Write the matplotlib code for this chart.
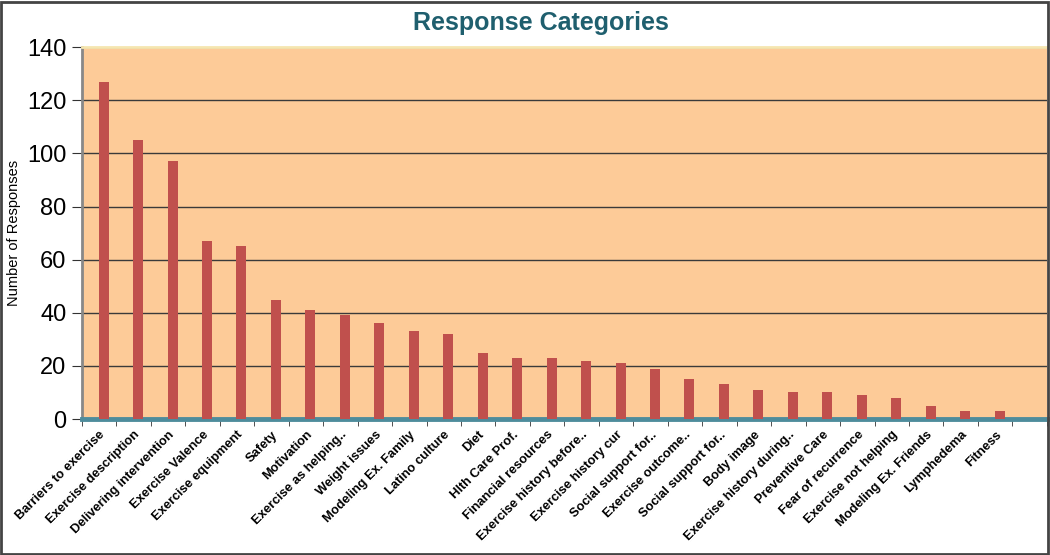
import matplotlib
matplotlib.use("Agg")
import matplotlib.pyplot as plt
import numpy as np
from matplotlib.patches import Rectangle

categories = ["Barriers to exercise", "Exercise description", "Delivering intervention",
              "Exercise Valence", "Exercise equipment", "Safety", "Motivation",
              "Exercise as helping..", "Weight issues", "Modeling Ex. Family",
              "Latino culture", "Diet", "Hlth Care Prof.", "Financial resources",
              "Exercise history before..", "Exercise history cur", "Social support for..",
              "Exercise outcome..", "Social support for..", "Body image",
              "Exercise history during..", "Preventive Care", "Fear of recurrence",
              "Exercise not helping", "Modeling Ex. Friends", "Lymphedema", "Fitness", ""]
values = [127, 105, 97, 67, 65, 45, 41, 39, 36, 33, 32, 25, 23, 23, 22, 21, 19,
          15, 13, 11, 10, 10, 9, 8, 5, 3, 3, 0]
yticks = [0, 20, 40, 60, 80, 100, 120, 140]

plt.rcParams['font.family'] = ['Liberation Sans', 'DejaVu Sans']

fig = plt.figure(figsize=(10.5, 5.55), dpi=100)
ax = fig.add_axes([0.078, 0.245, 0.919, 0.670])
ax.set_facecolor("#FDCB98")

x = np.arange(len(categories))
ax.bar(x + 0.13, values, width=0.29, color="#C0504D", zorder=3)

ax.set_xlim(-0.5, len(categories) - 0.5)
ax.set_ylim(0, 140)
ax.set_yticks(yticks)
ax.set_yticklabels([str(v) for v in yticks], fontsize=17)
ax.yaxis.grid(True, color="#3a3a3a", linewidth=1.0)
ax.set_axisbelow(True)

ax.set_xticks(x)
ax.set_xticklabels(categories, rotation=45, ha='right', rotation_mode='anchor',
                   fontsize=9.3, fontweight='bold')
ax.tick_params(axis='x', length=0, pad=7)
ax.set_xticks(np.arange(len(categories) + 1) - 0.5, minor=True)
ax.tick_params(axis='x', which='minor', length=5, color="#333333")
ax.tick_params(axis='y', length=7, color="#333333", pad=4)

ax.spines['top'].set_color("#F5E6B0")
ax.spines['top'].set_linewidth(2)
ax.spines['right'].set_visible(False)
ax.spines['left'].set_color("#888888")
ax.spines['left'].set_linewidth(2)
ax.spines['bottom'].set_color("#4E8C9C")
ax.spines['bottom'].set_linewidth(3.5)

ax.set_ylabel("Number of Responses", fontsize=10.5)
ax.yaxis.set_label_coords(-0.063, 0.5)

fig.text(0.515, 0.958, "Response Categories", ha='center', va='center',
         fontsize=18, fontweight='bold', color="#1F5F6E")

fig.patches.append(Rectangle((0.001, 0.002), 0.997, 0.995, transform=fig.transFigure,
                             fill=False, edgecolor="#444444", linewidth=2))

fig.savefig("out.png", dpi=100)
